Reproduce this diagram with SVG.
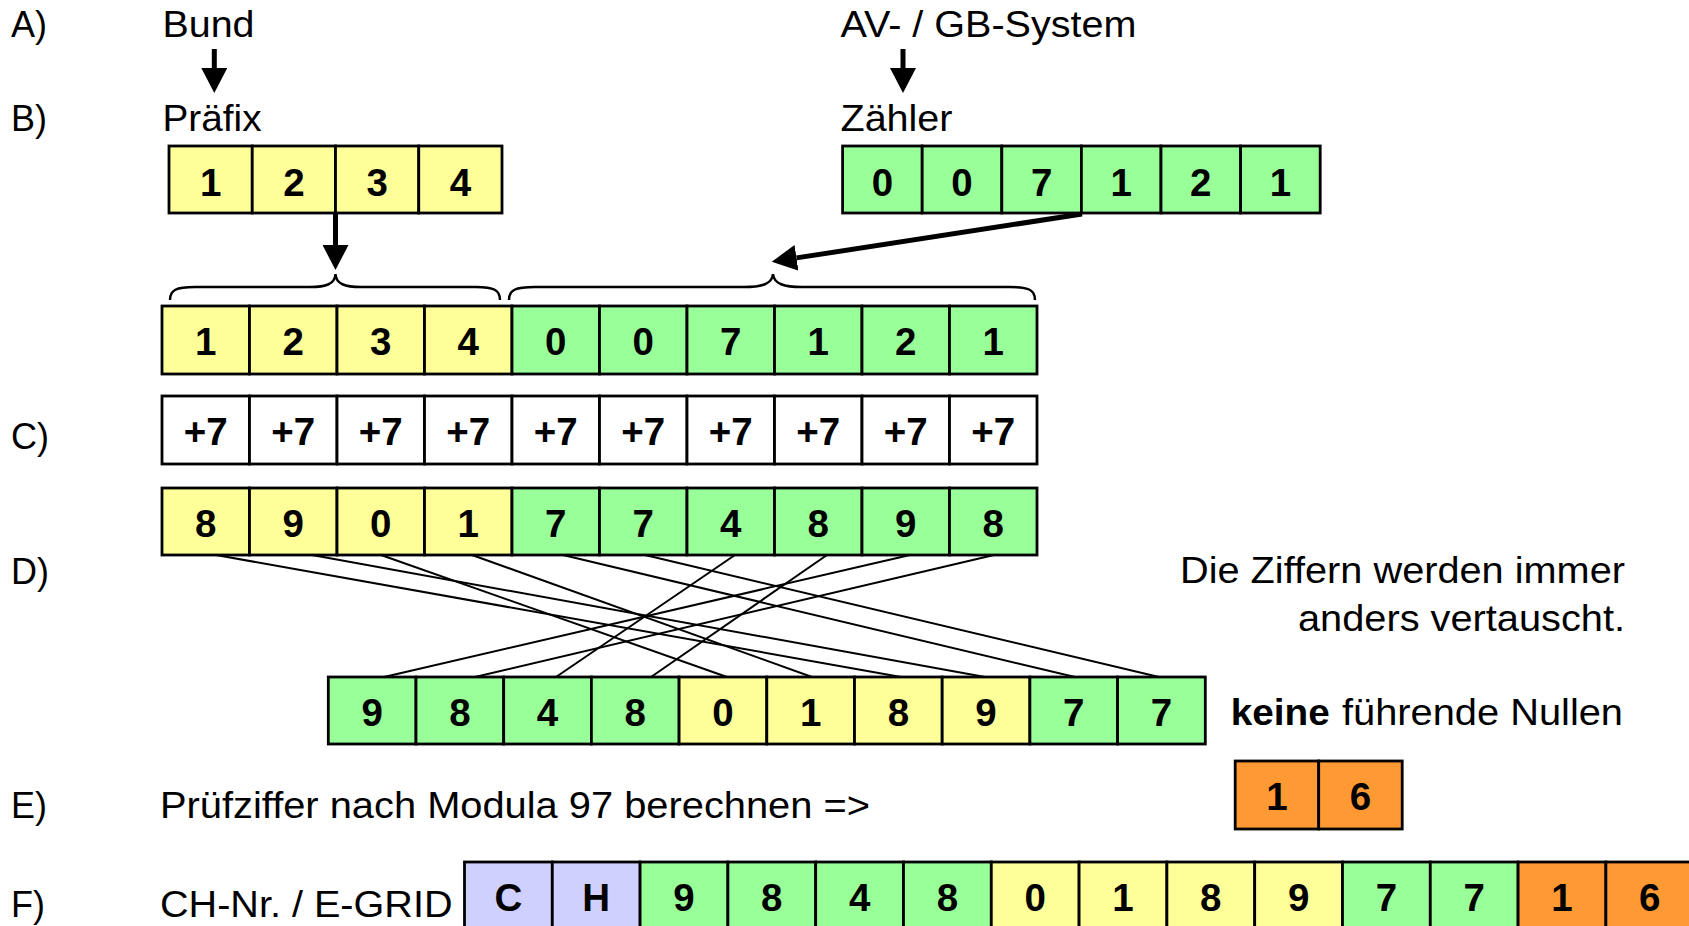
<svg xmlns="http://www.w3.org/2000/svg" width="1689" height="926" viewBox="0 0 1689 926">
  <style>
    .cell { stroke: #000; stroke-width: 2.8; }
    .y { fill: #FFFF99; }
    .g { fill: #99FF99; }
    .w { fill: #FFFFFF; }
    .o { fill: #FF9933; }
    .b { fill: #D0D0FF; }
    .d { font-family: "Liberation Sans", Arial, sans-serif; font-size: 38.5px; font-weight: bold; text-anchor: middle; fill: #000; }
    .t { font-family: "Liberation Sans", Arial, sans-serif; font-size: 36px; fill: #000; }
    .tb { font-family: "Liberation Sans", Arial, sans-serif; font-size: 36px; font-weight: bold; fill: #000; }
    .shaft { stroke: #000; stroke-width: 5; fill: none; }
    .brace { stroke: #000; stroke-width: 2.5; fill: none; }
    .swap { stroke: #000; stroke-width: 2; fill: none; }
  </style>
  <defs>
    <marker id="head" viewBox="0 0 25 26" markerWidth="25" markerHeight="26" refX="0" refY="13" orient="auto" markerUnits="userSpaceOnUse">
      <path d="M0,0 L25,13 L0,26 Z" fill="#000"/>
    </marker>
  </defs>

  <rect width="1689" height="926" fill="#FFFFFF"/>

  <!-- step letters -->
  <g id="steps">
    <text class="t" x="11" y="37">A)</text>
    <text class="t" x="11" y="131">B)</text>
    <text class="t" x="11" y="449">C)</text>
    <text class="t" x="11" y="584">D)</text>
    <text class="t" x="11" y="818">E)</text>
    <text class="t" x="11" y="917">F)</text>
  </g>

  <!-- sources -->
  <g id="bund">
    <text class="t" x="162.5" y="37" textLength="92" lengthAdjust="spacingAndGlyphs">Bund</text>
  </g>
  <g id="system">
    <text class="t" x="840.5" y="37" textLength="296" lengthAdjust="spacingAndGlyphs">AV- / GB-System</text>
  </g>

  <!-- prefix -->
  <g id="prefix">
    <text class="t" x="162.5" y="131" textLength="99" lengthAdjust="spacingAndGlyphs">Präfix</text>
    <rect class="cell y" x="169" y="146" width="83.25" height="67"/>
    <rect class="cell y" x="252.25" y="146" width="83.25" height="67"/>
    <rect class="cell y" x="335.5" y="146" width="83.25" height="67"/>
    <rect class="cell y" x="418.75" y="146" width="83.25" height="67"/>
    <text class="d" x="210.6" y="195.5">1</text>
    <text class="d" x="293.9" y="195.5">2</text>
    <text class="d" x="377.1" y="195.5">3</text>
    <text class="d" x="460.4" y="195.5">4</text>
  </g>

  <!-- counter -->
  <g id="counter">
    <text class="t" x="840.5" y="131" textLength="112" lengthAdjust="spacingAndGlyphs">Zähler</text>
    <rect class="cell g" x="842.6" y="146" width="79.6" height="67"/>
    <rect class="cell g" x="922.2" y="146" width="79.6" height="67"/>
    <rect class="cell g" x="1001.8" y="146" width="79.6" height="67"/>
    <rect class="cell g" x="1081.4" y="146" width="79.6" height="67"/>
    <rect class="cell g" x="1161" y="146" width="79.6" height="67"/>
    <rect class="cell g" x="1240.6" y="146" width="79.6" height="67"/>
    <text class="d" x="882.4" y="195.5">0</text>
    <text class="d" x="962" y="195.5">0</text>
    <text class="d" x="1041.6" y="195.5">7</text>
    <text class="d" x="1121.2" y="195.5">1</text>
    <text class="d" x="1200.8" y="195.5">2</text>
    <text class="d" x="1280.4" y="195.5">1</text>
  </g>

  <!-- combined number -->
  <g id="combined">
    <rect class="cell y" x="162" y="306" width="87.5" height="68"/>
    <rect class="cell y" x="249.5" y="306" width="87.5" height="68"/>
    <rect class="cell y" x="337" y="306" width="87.5" height="68"/>
    <rect class="cell y" x="424.5" y="306" width="87.5" height="68"/>
    <rect class="cell g" x="512" y="306" width="87.5" height="68"/>
    <rect class="cell g" x="599.5" y="306" width="87.5" height="68"/>
    <rect class="cell g" x="687" y="306" width="87.5" height="68"/>
    <rect class="cell g" x="774.5" y="306" width="87.5" height="68"/>
    <rect class="cell g" x="862" y="306" width="87.5" height="68"/>
    <rect class="cell g" x="949.5" y="306" width="87.5" height="68"/>
    <text class="d" x="205.75" y="355">1</text>
    <text class="d" x="293.25" y="355">2</text>
    <text class="d" x="380.75" y="355">3</text>
    <text class="d" x="468.25" y="355">4</text>
    <text class="d" x="555.75" y="355">0</text>
    <text class="d" x="643.25" y="355">0</text>
    <text class="d" x="730.75" y="355">7</text>
    <text class="d" x="818.25" y="355">1</text>
    <text class="d" x="905.75" y="355">2</text>
    <text class="d" x="993.25" y="355">1</text>
  </g>

  <!-- add seven to each digit -->
  <g id="plus-seven">
    <rect class="cell w" x="162" y="396" width="87.5" height="68"/>
    <rect class="cell w" x="249.5" y="396" width="87.5" height="68"/>
    <rect class="cell w" x="337" y="396" width="87.5" height="68"/>
    <rect class="cell w" x="424.5" y="396" width="87.5" height="68"/>
    <rect class="cell w" x="512" y="396" width="87.5" height="68"/>
    <rect class="cell w" x="599.5" y="396" width="87.5" height="68"/>
    <rect class="cell w" x="687" y="396" width="87.5" height="68"/>
    <rect class="cell w" x="774.5" y="396" width="87.5" height="68"/>
    <rect class="cell w" x="862" y="396" width="87.5" height="68"/>
    <rect class="cell w" x="949.5" y="396" width="87.5" height="68"/>
    <text class="d" x="205.75" y="445">+7</text>
    <text class="d" x="293.25" y="445">+7</text>
    <text class="d" x="380.75" y="445">+7</text>
    <text class="d" x="468.25" y="445">+7</text>
    <text class="d" x="555.75" y="445">+7</text>
    <text class="d" x="643.25" y="445">+7</text>
    <text class="d" x="730.75" y="445">+7</text>
    <text class="d" x="818.25" y="445">+7</text>
    <text class="d" x="905.75" y="445">+7</text>
    <text class="d" x="993.25" y="445">+7</text>
  </g>

  <!-- result of the addition -->
  <g id="added">
    <rect class="cell y" x="162" y="488" width="87.5" height="67"/>
    <rect class="cell y" x="249.5" y="488" width="87.5" height="67"/>
    <rect class="cell y" x="337" y="488" width="87.5" height="67"/>
    <rect class="cell y" x="424.5" y="488" width="87.5" height="67"/>
    <rect class="cell g" x="512" y="488" width="87.5" height="67"/>
    <rect class="cell g" x="599.5" y="488" width="87.5" height="67"/>
    <rect class="cell g" x="687" y="488" width="87.5" height="67"/>
    <rect class="cell g" x="774.5" y="488" width="87.5" height="67"/>
    <rect class="cell g" x="862" y="488" width="87.5" height="67"/>
    <rect class="cell g" x="949.5" y="488" width="87.5" height="67"/>
    <text class="d" x="205.75" y="536.5">8</text>
    <text class="d" x="293.25" y="536.5">9</text>
    <text class="d" x="380.75" y="536.5">0</text>
    <text class="d" x="468.25" y="536.5">1</text>
    <text class="d" x="555.75" y="536.5">7</text>
    <text class="d" x="643.25" y="536.5">7</text>
    <text class="d" x="730.75" y="536.5">4</text>
    <text class="d" x="818.25" y="536.5">8</text>
    <text class="d" x="905.75" y="536.5">9</text>
    <text class="d" x="993.25" y="536.5">8</text>
  </g>

  <!-- note on shuffling -->
  <g id="note-shuffle">
    <text class="t" x="1180" y="583" textLength="445" lengthAdjust="spacingAndGlyphs">Die Ziffern werden immer</text>
    <text class="t" x="1298" y="630.5" textLength="327" lengthAdjust="spacingAndGlyphs">anders vertauscht.</text>
  </g>

  <!-- shuffled digits -->
  <g id="shuffled">
    <rect class="cell g" x="328.3" y="677" width="87.7" height="67"/>
    <rect class="cell g" x="416" y="677" width="87.7" height="67"/>
    <rect class="cell g" x="503.7" y="677" width="87.7" height="67"/>
    <rect class="cell g" x="591.4" y="677" width="87.7" height="67"/>
    <rect class="cell y" x="679.1" y="677" width="87.7" height="67"/>
    <rect class="cell y" x="766.8" y="677" width="87.7" height="67"/>
    <rect class="cell y" x="854.5" y="677" width="87.7" height="67"/>
    <rect class="cell y" x="942.2" y="677" width="87.7" height="67"/>
    <rect class="cell g" x="1029.9" y="677" width="87.7" height="67"/>
    <rect class="cell g" x="1117.6" y="677" width="87.7" height="67"/>
    <text class="d" x="372.15" y="726">9</text>
    <text class="d" x="459.85" y="726">8</text>
    <text class="d" x="547.55" y="726">4</text>
    <text class="d" x="635.25" y="726">8</text>
    <text class="d" x="722.95" y="726">0</text>
    <text class="d" x="810.65" y="726">1</text>
    <text class="d" x="898.35" y="726">8</text>
    <text class="d" x="986.05" y="726">9</text>
    <text class="d" x="1073.75" y="726">7</text>
    <text class="d" x="1161.45" y="726">7</text>
  </g>

  <g id="note-zeros">
    <text class="tb" x="1230.7" y="725" textLength="99" lengthAdjust="spacingAndGlyphs">keine</text>
    <text class="t" x="1342" y="725" textLength="281" lengthAdjust="spacingAndGlyphs">führende Nullen</text>
  </g>

  <!-- check digits -->
  <g id="checksum">
    <text class="t" x="160" y="818" textLength="710" lengthAdjust="spacingAndGlyphs">Prüfziffer nach Modula 97 berechnen =&gt;</text>
    <rect class="cell o" x="1235.2" y="761" width="83.5" height="68"/>
    <rect class="cell o" x="1318.7" y="761" width="83.5" height="68"/>
    <text class="d" x="1277" y="810">1</text>
    <text class="d" x="1360.5" y="810">6</text>
  </g>

  <!-- final identifier -->
  <g id="egrid">
    <text class="t" x="160" y="917" textLength="292.5" lengthAdjust="spacingAndGlyphs">CH-Nr. / E-GRID</text>
    <rect class="cell b" x="464.5" y="862" width="87.8" height="68"/>
    <rect class="cell b" x="552.3" y="862" width="87.8" height="68"/>
    <rect class="cell g" x="640.1" y="862" width="87.8" height="68"/>
    <rect class="cell g" x="727.9" y="862" width="87.8" height="68"/>
    <rect class="cell g" x="815.7" y="862" width="87.8" height="68"/>
    <rect class="cell g" x="903.5" y="862" width="87.8" height="68"/>
    <rect class="cell y" x="991.3" y="862" width="87.8" height="68"/>
    <rect class="cell y" x="1079.1" y="862" width="87.8" height="68"/>
    <rect class="cell y" x="1166.9" y="862" width="87.8" height="68"/>
    <rect class="cell y" x="1254.7" y="862" width="87.8" height="68"/>
    <rect class="cell g" x="1342.5" y="862" width="87.8" height="68"/>
    <rect class="cell g" x="1430.3" y="862" width="87.8" height="68"/>
    <rect class="cell o" x="1518.1" y="862" width="87.8" height="68"/>
    <rect class="cell o" x="1605.9" y="862" width="87.8" height="68"/>
    <text class="d" x="508.4" y="911">C</text>
    <text class="d" x="596.2" y="911">H</text>
    <text class="d" x="684" y="911">9</text>
    <text class="d" x="771.8" y="911">8</text>
    <text class="d" x="859.6" y="911">4</text>
    <text class="d" x="947.4" y="911">8</text>
    <text class="d" x="1035.2" y="911">0</text>
    <text class="d" x="1123" y="911">1</text>
    <text class="d" x="1210.8" y="911">8</text>
    <text class="d" x="1298.6" y="911">9</text>
    <text class="d" x="1386.4" y="911">7</text>
    <text class="d" x="1474.2" y="911">7</text>
    <text class="d" x="1562" y="911">1</text>
    <text class="d" x="1649.8" y="911">6</text>
  </g>

  <!-- connectors -->
  <g id="connectors">
    <line class="shaft" x1="214.3" y1="49" x2="214.3" y2="68" marker-end="url(#head)"/>
    <line class="shaft" x1="903" y1="49" x2="903" y2="68" marker-end="url(#head)"/>
    <line class="shaft" x1="335.5" y1="214" x2="335.5" y2="245" marker-end="url(#head)"/>
    <line class="shaft" x1="1082" y1="214" x2="796.5" y2="257.9" stroke-width="4.5" marker-end="url(#head)"/>

    <path class="brace" d="M170,300 C170,290 176,287 195,287 L310,287 C326,287 335,284 335.5,274 C336,284 345,287 361,287 L476,287 C494,287 500,290 500,300"/>
    <path class="brace" d="M509,300 C509,290 515,287 535,287 L744,287 C762,287 772,284 773,274 C774,284 784,287 802,287 L1010,287 C1029,287 1035,290 1035,300"/>

    <line class="swap" x1="216" y1="555" x2="901" y2="677"/>
    <line class="swap" x1="312" y1="555" x2="985" y2="677"/>
    <line class="swap" x1="381" y1="555" x2="727" y2="677"/>
    <line class="swap" x1="472" y1="555" x2="812" y2="677"/>
    <line class="swap" x1="563" y1="555" x2="1075" y2="677"/>
    <line class="swap" x1="645" y1="555" x2="1159" y2="677"/>
    <line class="swap" x1="735" y1="555" x2="556" y2="677"/>
    <line class="swap" x1="827" y1="555" x2="651" y2="677"/>
    <line class="swap" x1="910" y1="555" x2="384" y2="677"/>
    <line class="swap" x1="994" y1="555" x2="475" y2="677"/>
  </g>
</svg>
